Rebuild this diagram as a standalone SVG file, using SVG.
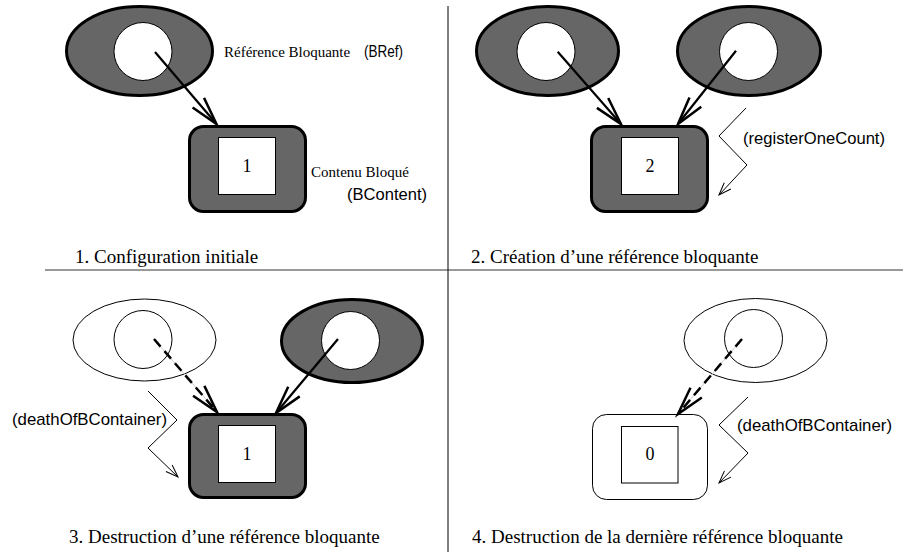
<svg xmlns="http://www.w3.org/2000/svg" width="903" height="558" viewBox="0 0 903 558">
<style>
  .bg { fill: #ffffff; }
  .ell-dark { fill: #666666; stroke: #000; stroke-width: 3; }
  .ell-light { fill: none; stroke: #000; stroke-width: 1; }
  .hole { fill: #ffffff; stroke: #000; stroke-width: 1; }
  .box-dark { fill: #666666; stroke: #000; stroke-width: 3; }
  .box-light { fill: none; stroke: #000; stroke-width: 1; }
  .cell { fill: #ffffff; stroke: #000; stroke-width: 1; }
  .arrow { fill: none; stroke: #000; stroke-width: 2.2; marker-end: url(#ah); }
  .dash { fill: none; stroke: #000; stroke-width: 2.5; stroke-dasharray: 10 6; }
  .dash-under { fill: none; stroke: #cccccc; stroke-width: 1; marker-end: url(#ah); }
  .zig { fill: none; stroke: #000; stroke-width: 1; marker-end: url(#sh); }
  .serif { font-family: "Liberation Serif", "Times New Roman", serif; fill: #000; }
  .sans { font-family: "Liberation Sans", Arial, sans-serif; fill: #000; }
  .cap { font-size: 19px; }
  .lbl { font-size: 15px; }
  .num { font-size: 18px; text-anchor: middle; }
  .note { font-size: 17px; }
</style>
<defs>
  <marker id="ah" markerUnits="userSpaceOnUse" markerWidth="40" markerHeight="30" viewBox="-35 -15 40 30" refX="0" refY="0" orient="auto" overflow="visible">
    <path d="M-28,-7.5 L0,0 L-28,7.5" fill="none" stroke="#000" stroke-width="2.5"/>
  </marker>
  <marker id="sh" markerUnits="userSpaceOnUse" markerWidth="20" markerHeight="14" viewBox="-16 -7 20 14" refX="0" refY="0" orient="auto" overflow="visible">
    <path d="M-12.5,-4.5 L0,0 L-12.5,4.5" fill="none" stroke="#000" stroke-width="1"/>
  </marker>
</defs>
<rect class="bg" x="0" y="0" width="903" height="558"/>

<g id="dividers">
  <line x1="45" y1="270" x2="903" y2="270" stroke="#777777" stroke-width="1.6"/>
  <line x1="448" y1="6" x2="448" y2="552" stroke="#000" stroke-width="1"/>
</g>

<!-- Panel 1 -->
<g id="p1-bref">
  <ellipse class="ell-dark" cx="139.5" cy="51" rx="73" ry="44.5"/>
  <circle class="hole" cx="143" cy="51.5" r="29"/>
  <text class="serif lbl" x="224" y="57">Référence Bloquante</text>
  <text class="sans note" x="364" y="57" textLength="39" lengthAdjust="spacingAndGlyphs">(BRef)</text>
</g>
<g id="p1-bcontent">
  <rect class="box-dark" x="189.5" y="126.5" width="116" height="85" rx="14"/>
  <rect class="cell" x="218.5" y="137.5" width="57" height="57"/>
  <text class="serif num" x="247" y="172">1</text>
  <text class="serif lbl" x="311" y="177">Contenu Bloqué</text>
  <text class="sans note" x="347" y="200" textLength="80" lengthAdjust="spacingAndGlyphs">(BContent)</text>
</g>
<text id="cap1" class="serif cap" x="75" y="263">1. Configuration initiale</text>

<!-- Panel 2 -->
<g id="p2-bref-a">
  <ellipse class="ell-dark" cx="547.5" cy="51" rx="71" ry="44.5"/>
  <circle class="hole" cx="546" cy="51.5" r="29"/>
</g>
<g id="p2-bref-b">
  <ellipse class="ell-dark" cx="749" cy="51" rx="71.5" ry="44.5"/>
  <circle class="hole" cx="748.5" cy="51.5" r="29"/>
</g>
<g id="p2-bcontent">
  <rect class="box-dark" x="591.5" y="126.5" width="116" height="85" rx="14"/>
  <rect class="cell" x="621.5" y="137.5" width="57" height="57"/>
  <text class="serif num" x="650" y="172">2</text>
</g>
<text id="p2-note" class="sans note" x="743" y="144" textLength="142" lengthAdjust="spacingAndGlyphs">(registerOneCount)</text>
<text id="cap2" class="serif cap" x="471" y="263">2. Création d’une référence bloquante</text>

<!-- Panel 3 -->
<g id="p3-bref-dead">
  <ellipse class="ell-light" cx="144.5" cy="340" rx="71.5" ry="41"/>
  <circle class="hole" cx="143" cy="339.5" r="29"/>
</g>
<g id="p3-bref">
  <ellipse class="ell-dark" cx="352" cy="341" rx="70.5" ry="41.5"/>
  <circle class="hole" cx="350.5" cy="340.5" r="29"/>
</g>
<g id="p3-bcontent">
  <rect class="box-dark" x="189.5" y="414.5" width="116" height="83" rx="14"/>
  <rect class="cell" x="218.5" y="425.5" width="57" height="57"/>
  <text class="serif num" x="247" y="460">1</text>
</g>
<text id="p3-note" class="sans note" x="12" y="425" textLength="155" lengthAdjust="spacingAndGlyphs">(deathOfBContainer)</text>
<text id="cap3" class="serif cap" x="69" y="543">3. Destruction d’une référence bloquante</text>

<!-- Panel 4 -->
<g id="p4-bref-dead">
  <ellipse class="ell-light" cx="755.5" cy="340.5" rx="71.5" ry="42"/>
  <circle class="hole" cx="753.5" cy="338.5" r="29"/>
</g>
<g id="p4-bcontent">
  <rect class="box-light" x="592.5" y="414.5" width="115" height="85" rx="14"/>
  <rect class="cell" x="621.5" y="426.5" width="56.5" height="56.5"/>
  <text class="serif num" x="650" y="460">0</text>
</g>
<text id="p4-note" class="sans note" x="737" y="431" textLength="155" lengthAdjust="spacingAndGlyphs">(deathOfBContainer)</text>
<text id="cap4" class="serif cap" x="472" y="543">4. Destruction de la dernière référence bloquante</text>

<g id="connectors">
  <line class="arrow" x1="155" y1="52" x2="216.5" y2="124"/>
  <line class="arrow" x1="557.7" y1="51.7" x2="621" y2="124"/>
  <line class="arrow" x1="736" y1="50.7" x2="678" y2="124"/>
  <polyline class="zig" points="746,108 719,136 747,165 719,195"/>

  <line class="dash-under" x1="154" y1="339" x2="217" y2="412"/>
  <line class="dash" x1="154" y1="339" x2="217" y2="412"/>
  <line class="arrow" x1="338" y1="339" x2="276" y2="413"/>
  <polyline class="zig" points="148,391 177,420 148,448 178,477"/>

  <line class="dash-under" x1="742" y1="339" x2="678" y2="414"/>
  <line class="dash" x1="742" y1="339" x2="678" y2="414"/>
  <polyline class="zig" points="748,397 719,425 748,453 719,483"/>
</g>
</svg>
